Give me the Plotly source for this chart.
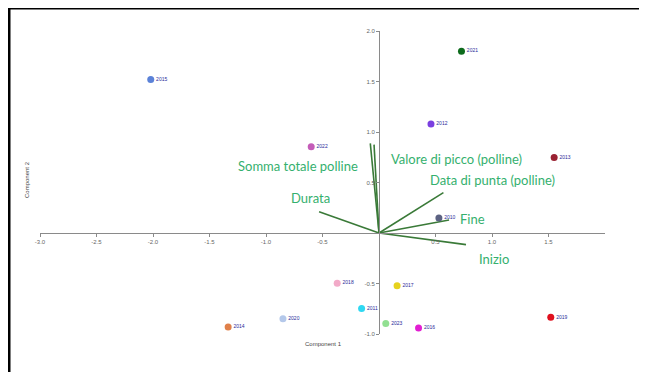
import plotly.graph_objects as go

# Scores (PCA component 1 / component 2) per year
years = ["2015", "2021", "2012", "2022", "2013", "2010", "2018", "2017",
         "2011", "2020", "2014", "2023", "2016", "2019"]
comp1 = [-2.02, 0.73, 0.46, -0.60, 1.55, 0.53, -0.37, 0.16,
         -0.154, -0.85, -1.335, 0.06, 0.35, 1.52]
comp2 = [1.52, 1.80, 1.08, 0.855, 0.747, 0.148, -0.497, -0.523,
         -0.747, -0.85, -0.93, -0.895, -0.94, -0.835]
point_colors = ["#5b82d8", "#0d6b1c", "#7a3fe0", "#c45cb8", "#9a2232", "#5c6282",
                "#f2aac8", "#e6d21e", "#2fd8f2", "#b4c8ea", "#e0804a", "#92e092",
                "#e21ed2", "#e0101e"]

# Loadings (variable vectors)
variables = ["Somma totale polline", "Valore di picco (polline)", "Data di punta (polline)",
             "Durata", "Fine", "Inizio"]
load1 = [-0.077, -0.044, 0.57, -0.53, 0.62, 0.77]
load2 = [0.888, 0.875, 0.40, 0.21, 0.128, -0.115]

# Variable label positions
label_x = [-0.72, 0.687, 1.005, -0.604, 0.826, 1.016]
label_y = [0.666, 0.733, 0.528, 0.343, 0.135, -0.26]

x_ticks = [-3.0, -2.5, -2.0, -1.5, -1.0, -0.5, 0.5, 1.0, 1.5]
y_ticks = [-1.0, -0.5, 0.5, 1.0, 1.5, 2.0]
x_range = [-3.0, 2.0]
y_range = [-1.0, 2.0]

fig = go.Figure()

for v, a, b in zip(variables, load1, load2):
    fig.add_trace(go.Scatter(x=[0, a], y=[0, b], mode="lines",
                             line=dict(color="#3a7a38", width=1.6),
                             hoverinfo="skip", showlegend=False))

fig.add_trace(go.Scatter(
    x=comp1, y=comp2, mode="markers+text", text=years,
    textposition="middle right",
    textfont=dict(size=5, color="#2a2a9a", family="Liberation Sans"),
    marker=dict(size=7, color=point_colors),
    showlegend=False))

for v, lx, ly in zip(variables, label_x, label_y):
    fig.add_annotation(x=lx, y=ly, text=v, showarrow=False,
                       font=dict(family="Lato", size=13, color="#35b06e"),
                       xanchor="center", yanchor="middle")

# axis titles
fig.add_annotation(x=(323 - 40) / 565, y=(334 - 349) / 303, xref="paper", yref="paper",
                   text="Component 1", showarrow=False,
                   font=dict(family="Liberation Sans", size=6, color="#444"))
fig.add_annotation(x=(22 - 40) / 565, y=(334 - 180) / 303, xref="paper", yref="paper",
                   text="Component 2", showarrow=False, textangle=-90,
                   font=dict(family="Liberation Sans", size=6, color="#444"))

# frame (top and left edges)
fig.add_shape(type="line", xref="paper", yref="paper",
              x0=(9 - 40) / 565, x1=(660 - 40) / 565,
              y0=(334 - 8) / 303, y1=(334 - 8) / 303,
              line=dict(color="black", width=3))
fig.add_shape(type="line", xref="paper", yref="paper",
              x0=(9 - 40) / 565, x1=(9 - 40) / 565,
              y0=(334 - 8) / 303, y1=(334 - 380) / 303,
              line=dict(color="black", width=3))

axis_common = dict(showgrid=False, zeroline=False, showline=True,
                   linecolor="#8a8a8a", linewidth=1, ticks="outside", ticklen=3,
                   tickcolor="#8a8a8a",
                   tickfont=dict(family="Liberation Sans", size=6, color="#666"))

fig.update_layout(
    width=647, height=372,
    margin=dict(l=32, r=50, t=23, b=46),
    plot_bgcolor="white", paper_bgcolor="white",
    xaxis=dict(range=x_range, tickvals=x_ticks, ticktext=[f"{t:.1f}" for t in x_ticks],
               anchor="free", position=(0 - y_range[0]) / (y_range[1] - y_range[0]),
               **axis_common),
    yaxis=dict(range=y_range, tickvals=y_ticks, ticktext=[f"{t:.1f}" for t in y_ticks],
               anchor="free", position=(0 - x_range[0]) / (x_range[1] - x_range[0]),
               **axis_common),
)

fig.write_html("out.html")
